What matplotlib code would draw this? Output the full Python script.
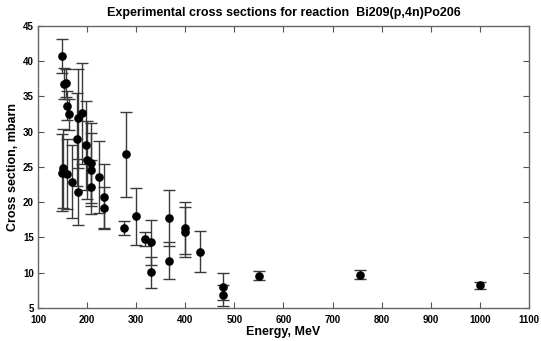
import matplotlib
matplotlib.use("Agg")
import matplotlib.pyplot as plt
import numpy as np

# energy (MeV), cross section (mbarn), error (mbarn)
energy = [149, 151, 149, 153, 158, 160, 164, 160, 169, 179, 181, 182, 189,
          198, 199, 209, 209, 209, 224, 235, 234, 275, 279, 299, 317, 330,
          330, 366, 366, 399, 399, 429, 477, 477, 550, 756, 1000]
sigma = [40.7, 24.8, 24.2, 36.8, 36.9, 33.7, 32.5, 24.0, 22.9, 28.9, 31.9,
         21.5, 32.6, 28.1, 26.0, 25.6, 24.6, 22.2, 23.6, 20.8, 19.2, 16.3,
         26.8, 18.0, 14.8, 14.3, 10.1, 17.8, 11.7, 16.4, 15.8, 13.0, 8.0,
         6.8, 9.6, 9.7, 8.2]
err = [2.4, 5.6, 5.5, 2.2, 2.0, 2.1, 2.2, 5.0, 5.2, 6.6, 7.0, 4.7, 7.2,
       6.3, 5.5, 5.7, 5.2, 3.8, 5.1, 4.6, 2.9, 1.0, 6.0, 4.0, 1.0, 3.2,
       2.2, 4.0, 2.6, 3.7, 3.5, 2.9, 1.9, 1.5, 0.6, 0.65, 0.5]

xticks = np.arange(100, 1101, 100)
yticks = np.arange(5, 46, 5)

plt.rcParams['font.family'] = ['Liberation Sans', 'DejaVu Sans']
plt.rcParams['font.weight'] = 'bold'

fig = plt.figure(figsize=(5.41, 3.41), dpi=100)
ax = fig.add_axes([0.0702, 0.0968, 0.9076, 0.827])

ax.errorbar(energy, sigma, yerr=err, fmt='o', color='black', ms=5.2,
            ecolor='#3a3a3a', elinewidth=1.0, capsize=4.5, capthick=1.0)

ax.set_xlim(100, 1100)
ax.set_ylim(5, 45)
ax.set_xticks(xticks)
ax.set_yticks(yticks)
ax.tick_params(direction='in', length=4, width=0.8, color='#555555',
               top=True, right=True, labelsize=7)
ax.tick_params(axis='x', pad=5)
ax.tick_params(axis='y', pad=3)
for lab in ax.get_xticklabels() + ax.get_yticklabels():
    lab.set_fontweight('bold')
for sp in ax.spines.values():
    sp.set_color('#666666')
    sp.set_linewidth(1.0)

ax.set_title('Experimental cross sections for reaction  Bi209(p,4n)Po206',
             fontsize=9, fontweight='bold', pad=7)
ax.set_xlabel('Energy, MeV', fontsize=9, fontweight='bold', labelpad=1)
ax.set_ylabel('Cross section, mbarn', fontsize=9, fontweight='bold', labelpad=3)

fig.savefig('out.png', dpi=100)
